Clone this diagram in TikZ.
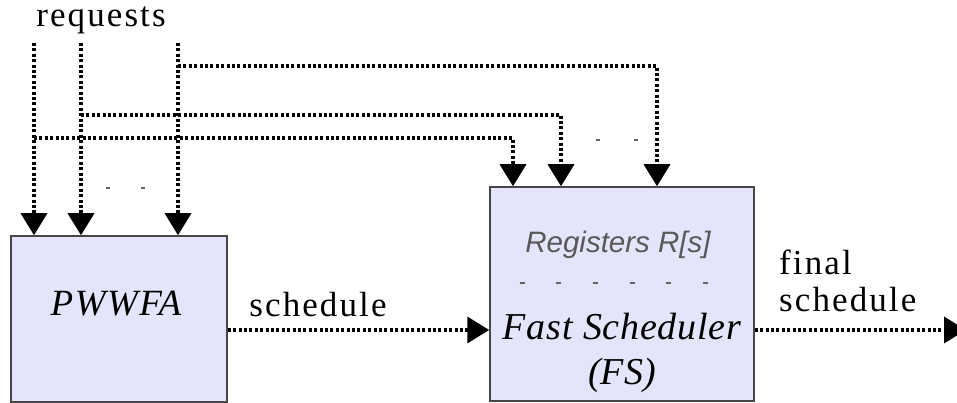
\documentclass[tikz,border=0pt]{standalone}
\usepackage{fontspec}
\setmainfont{Liberation Serif}
\newfontfamily\regfont{Liberation Sans}
\usetikzlibrary{arrows.meta}
\definecolor{boxfill}{RGB}{228,228,250}
\definecolor{boxline}{RGB}{70,70,70}
\tikzset{
  blockbox/.style={draw=boxline,line width=1.5pt,fill=boxfill,inner sep=0pt},
  dotline/.style={line width=3.6pt,dash pattern=on 3pt off 2.4pt,-{Triangle[width=26pt,length=22pt]}},
  lbl/.style={font=\fontsize{35}{40}\selectfont\addfontfeature{LetterSpace=6},inner sep=0pt},
  tick/.style={line width=1.4pt,black!60}
}
\begin{document}
\begin{tikzpicture}[x=1pt,y=-1pt]
\useasboundingbox (0,0) rectangle (957,403);
% boxes
\node[blockbox,minimum width=216pt,minimum height=166pt] (lb) at (119,319) {};
\node[blockbox,minimum width=264pt,minimum height=214pt] (rb) at (622,294) {};
% texts
\node[lbl,font=\fontsize{37}{40}\selectfont\itshape\addfontfeature{LetterSpace=4}] (pw) at (116,304) {PWWFA};
\node[inner sep=0pt,text=black!65,font=\regfont\fontsize{29.5}{34}\selectfont\itshape] (reg) at (618,245) {Registers R[s]};
\node[lbl,font=\fontsize{38}{40}\selectfont\itshape\addfontfeature{LetterSpace=2}] (fs) at (622,327) {Fast Scheduler};
\node[lbl,font=\fontsize{38}{40}\selectfont\itshape] (fsa) at (622,375) {(FS)};
\node[lbl] (req) at (101,20) {requests};
\node[lbl] (sch) at (318,305) {schedule};
\node[lbl,anchor=west] (fin) at (779,262) {final};
\node[lbl,anchor=west] (fsch) at (779,300) {schedule};
% register dashes
\foreach \x in {522,558,595,632,668,705}{\draw[tick] (\x-2.5,283) -- (\x+2.5,283);}
\foreach \x in {108,143}{\draw[tick] (\x-2,188) -- (\x+2,188);}
\foreach \x in {598,636}{\draw[tick] (\x-2,140) -- (\x+2,140);}
% request sources
\coordinate (r1) at (34,43);
\coordinate (r2) at (81,43);
\coordinate (r3) at (178,43);
\coordinate (j1) at (34,138);
\coordinate (j2) at (81,115);
\coordinate (j3) at (178,66);
\coordinate (c1) at (513,138);
\coordinate (c2) at (561,115);
\coordinate (c3) at (657,66);
\draw[dotline] (r1) -- (r1 |- lb.north);
\draw[dotline] (r2) -- (r2 |- lb.north);
\draw[dotline] (r3) -- (r3 |- lb.north);
\draw[dotline] (j1) -- (c1) -- (c1 |- rb.north);
\draw[dotline] (j2) -- (c2) -- (c2 |- rb.north);
\draw[dotline] (j3) -- (c3) -- (c3 |- rb.north);
% schedule arrows
\coordinate (outend) at (966,330);
\draw[dotline] (lb.east |- 0,330) -- (rb.west |- 0,330);
\draw[dotline] (rb.east |- 0,330) -- (outend);
\end{tikzpicture}
\end{document}
